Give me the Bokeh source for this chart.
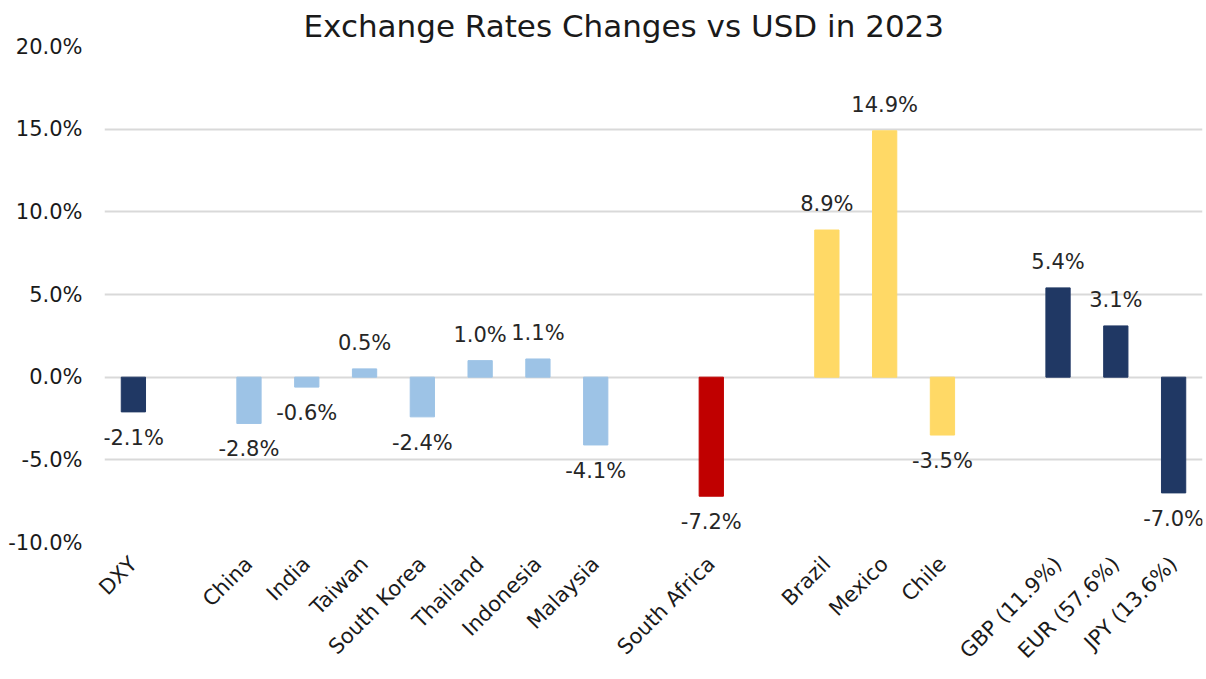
from bokeh.plotting import figure
from bokeh.models import ColumnDataSource, FactorRange, Range1d, LabelSet, NumeralTickFormatter, FixedTicker
from bokeh.core.properties import value
from bokeh.embed import file_html
from bokeh.resources import INLINE
import math

categories = ["DXY", " ", "China", "India", "Taiwan", "South Korea", "Thailand", "Indonesia",
              "Malaysia", "  ", "South Africa", "   ", "Brazil", "Mexico", "Chile", "    ",
              "GBP (11.9%)", "EUR (57.6%)", "JPY (13.6%)"]

bar_cats = ["DXY", "China", "India", "Taiwan", "South Korea", "Thailand", "Indonesia",
            "Malaysia", "South Africa", "Brazil", "Mexico", "Chile",
            "GBP (11.9%)", "EUR (57.6%)", "JPY (13.6%)"]
values = [-2.1, -2.8, -0.6, 0.5, -2.4, 1.0, 1.1, -4.1, -7.2, 8.9, 14.9, -3.5, 5.4, 3.1, -7.0]
groups = ["usd", "asia", "asia", "asia", "asia", "asia", "asia", "asia", "africa",
          "latam", "latam", "latam", "g3", "g3", "g3"]
y_ticks = [-10, -5, 0, 5, 10, 15, 20]

palette = {"usd": "#203864", "asia": "#9DC3E6", "africa": "#C00000", "latam": "#FFD966", "g3": "#203864"}
FONT = "DejaVu Sans"

src = ColumnDataSource(dict(
    x=bar_cats,
    top=[v / 100 for v in values],
    color=[palette[g] for g in groups],
    label=[f"{v:.1f}%" for v in values],
    off=[26 if v >= 0 else -26 for v in values],
))

p = figure(width=1206, height=676, x_range=FactorRange(*categories, range_padding=0),
           y_range=Range1d(-0.10, 0.20), output_backend="svg", toolbar_location=None,
           title="Exchange Rates Changes vs USD in 2023")

p.vbar(x="x", top="top", bottom=0, width=0.42, color="color", source=src)

labels = LabelSet(x="x", y="top", text="label", y_offset="off", source=src,
                  text_align="center", text_baseline="middle",
                  text_font=value(FONT), text_font_size="21px", text_color="#262626")
p.add_layout(labels)

p.title.align = "left"
p.title.text_font = FONT
p.title.text_font_size = "31px"
p.title.text_font_style = "normal"
p.title.text_color = "#1a1a1a"
p.title.offset = 199
p.title.standoff = 5

p.min_border_left = 104
p.min_border_right = 4
p.min_border_top = 46
p.min_border_bottom = 134
p.outline_line_color = None

p.xgrid.grid_line_color = None
p.ygrid.grid_line_color = "#D9D9D9"
p.ygrid.grid_line_width = 2
p.yaxis.ticker = FixedTicker(ticks=[t / 100 for t in y_ticks])
p.yaxis.formatter = NumeralTickFormatter(format="0.0%")

for ax in (p.xaxis[0], p.yaxis[0]):
    ax.axis_line_color = None
    ax.major_tick_line_color = None
    ax.minor_tick_line_color = None
    ax.major_tick_out = 0
    ax.major_tick_in = 0
    ax.major_label_text_font = FONT
    ax.major_label_text_font_size = "21px"
    ax.major_label_text_color = "#1a1a1a"

p.yaxis.major_label_standoff = 22
p.xaxis.major_label_standoff = 18
p.xaxis.major_label_orientation = math.pi / 4

open("out.html", "w").write(file_html(p, INLINE))
